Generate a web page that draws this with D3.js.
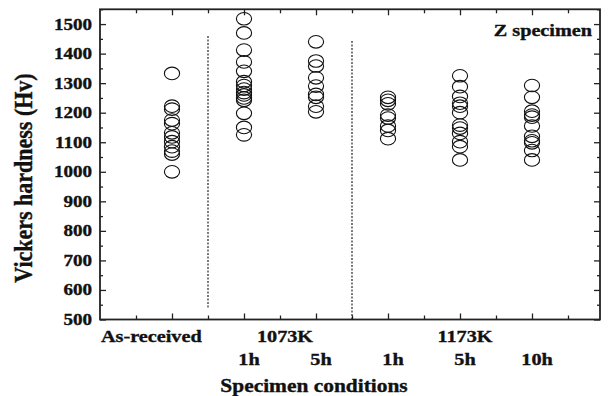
<!DOCTYPE html>
<html>
<head>
<meta charset="utf-8">
<script src="https://cdn.jsdelivr.net/npm/d3@7/dist/d3.min.js"></script>
<style>
  body { margin: 0; background: #fff; }
  svg text { font-family: "Liberation Serif", "Times New Roman", serif; font-weight: bold; fill: #111; stroke: #111; stroke-width: 0.35px; }
</style>
</head>
<body>
<div class="chart"></div>
<script>
// conditions along x (positions 1..6)
const conditionLabels = ["As-received", "1h", "5h", "1h", "5h", "10h"];
const groupLabels = ["1073K", "1173K"];
const groupMembers = [[2, 3], [4, 5, 6]];

// hardness readings (Hv) for each condition
const asReceived = [1333, 1222, 1212, 1175, 1163, 1132, 1118, 1102, 1085, 1070, 1060, 1000];
const k1073h1 = [1518, 1470, 1412, 1372, 1340, 1305, 1292, 1280, 1268, 1260, 1250, 1242, 1198, 1150, 1125];
const k1073h5 = [1440, 1375, 1358, 1318, 1290, 1262, 1252, 1222, 1203];
const k1173h1 = [1252, 1242, 1230, 1192, 1182, 1155, 1140, 1112];
const k1173h5 = [1325, 1288, 1255, 1232, 1222, 1200, 1158, 1148, 1130, 1102, 1085, 1040];
const k1173h10 = [1292, 1252, 1205, 1192, 1185, 1155, 1120, 1105, 1098, 1072, 1040];
const series = [asReceived, k1073h1, k1073h5, k1173h1, k1173h5, k1173h10];

const yTickLabels = [500, 600, 700, 800, 900, 1000, 1100, 1200, 1300, 1400, 1500];
// dashed separators: [x position, top Hv, bottom Hv]
const separators = [[1.5, 1460, 537], [3.5, 1443, 500]];

const width = 608, height = 396;
const SX = 1.19; // the original figure is a bit wider than tall

const x = d3.scaleLinear().domain([0, 500 / 72]).range([100, 600]);
const y = d3.scaleLinear().domain([500, 1550]).range([319.5, 9.3]);

const svg = d3.select("div.chart").append("svg")
  .attr("width", width)
  .attr("height", height);

function stretchedText(g, tx, ty, str, size, anchor, rotate) {
  return g.append("text")
    .attr("transform", `translate(${tx},${ty}) scale(${SX},1)` + (rotate ? " rotate(-90)" : ""))
    .attr("text-anchor", anchor)
    .style("font-size", size + "px")
    .text(str);
}

// ticks
const xMajor = d3.range(1, 7);
const xMinor = d3.range(0.5, 7, 1);
const yMajor = d3.range(500, 1551, 100);
const yMinor = d3.range(550, 1551, 100);

const axes = svg.append("g").attr("class", "axes");
function addAxis(axisFn, scale, vals, size, transform) {
  const g = axes.append("g")
    .attr("transform", transform)
    .call(axisFn(scale).tickValues(vals).tickSize(size).tickSizeOuter(0).tickFormat(""));
  g.select(".domain").remove();
  g.selectAll(".tick line").attr("stroke", "#222").attr("stroke-width", 1.3);
}
addAxis(d3.axisBottom, x, xMajor, -6, `translate(0,${y(500)})`);
addAxis(d3.axisBottom, x, xMinor, -4, `translate(0,${y(500)})`);
addAxis(d3.axisTop, x, xMajor, -6, `translate(0,${y(1550)})`);
addAxis(d3.axisTop, x, xMinor, -4, `translate(0,${y(1550)})`);
addAxis(d3.axisLeft, y, yMajor, -6, `translate(${x(0)},0)`);
addAxis(d3.axisLeft, y, yMinor, -3, `translate(${x(0)},0)`);
addAxis(d3.axisRight, y, yMajor, -6, `translate(${x.range()[1]},0)`);
addAxis(d3.axisRight, y, yMinor, -3, `translate(${x.range()[1]},0)`);

// frame
svg.append("rect")
  .attr("x", x(0)).attr("y", y(1550))
  .attr("width", x.range()[1] - x(0))
  .attr("height", y(500) - y(1550))
  .attr("fill", "none")
  .attr("stroke", "#222")
  .attr("stroke-width", 1.8);

// separators
svg.append("g").selectAll("line")
  .data(separators).enter()
  .append("line")
  .attr("x1", d => x(d[0])).attr("x2", d => x(d[0]))
  .attr("y1", d => y(d[1])).attr("y2", d => y(d[2]))
  .attr("stroke", "#111")
  .attr("stroke-width", 1.1)
  .attr("stroke-dasharray", "2,1.5");

// points
const points = [];
series.forEach((vals, i) => vals.forEach(v => points.push({ pos: i + 1, v: v })));
svg.append("g").selectAll("ellipse")
  .data(points).enter()
  .append("ellipse")
  .attr("cx", d => x(d.pos))
  .attr("cy", d => y(d.v))
  .attr("rx", 7.6)
  .attr("ry", 6.3)
  .attr("fill", "none")
  .attr("stroke", "#111")
  .attr("stroke-width", 1.1);

// y tick labels
const labels = svg.append("g");
yTickLabels.forEach(v => stretchedText(labels, 92, y(v) + 5.5, v, 16, "end"));

// x category labels
stretchedText(labels, x(0) + 1, 342, conditionLabels[0], 17, "start");
groupLabels.forEach((lab, i) => {
  const c = d3.mean(groupMembers[i]);
  stretchedText(labels, x(c) + 5, 342, lab, 17, "middle");
});
conditionLabels.slice(1).forEach((lab, i) => {
  stretchedText(labels, x(i + 2) + 5, 365, lab, 17, "middle");
});

// titles
stretchedText(labels, 314, 392, "Specimen conditions", 18, "middle");
stretchedText(labels, 32, 178, "Vickers hardness (Hv)", 22, "middle", true);
stretchedText(labels, 592, 36, "Z specimen", 17, "end");
</script>
</body>
</html>
